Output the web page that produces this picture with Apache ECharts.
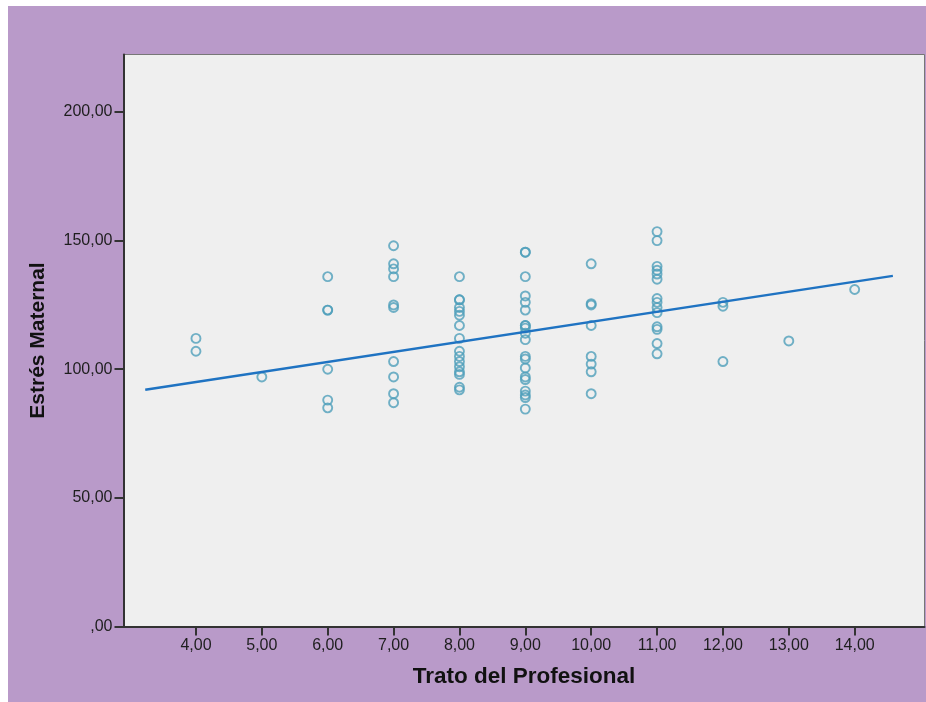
<!DOCTYPE html>
<html>
<head>
<meta charset="utf-8">
<script src="https://cdn.jsdelivr.net/npm/echarts@6/dist/echarts.min.js"></script>
<style>
  html, body { margin: 0; padding: 0; background: #ffffff; }
  #chart {
    position: absolute;
    left: 8px;
    top: 6px;
    width: 918px;
    height: 696px;
    background: #b99ac9;
  }
</style>
</head>
<body>
<div id="chart"></div>
<script>
// Trato del Profesional (x) / Estrés Maternal (y), one entry per point
const trato = [
  4, 4,
  5,
  6, 6, 6, 6, 6, 6,
  7, 7, 7, 7, 7, 7, 7, 7, 7, 7,
  8, 8, 8, 8, 8, 8, 8, 8, 8, 8, 8, 8, 8, 8, 8, 8,
  9, 9, 9, 9, 9, 9, 9, 9, 9, 9, 9, 9, 9, 9, 9, 9, 9, 9, 9, 9,
  10, 10, 10, 10, 10, 10, 10, 10,
  11, 11, 11, 11, 11, 11, 11, 11, 11, 11, 11, 11, 11, 11,
  12, 12, 12,
  13,
  14,
];
const estres = [
  112, 107,
  97,
  136, 123, 123, 100, 88, 85,
  148, 141, 139, 136, 125, 124, 103, 97, 90.5, 87,
  136, 127, 127, 124, 122.5, 121, 117, 112, 107, 105, 103, 101, 99, 98, 93, 92,
  145.5, 145.5, 136, 128.5, 126, 123, 117, 117, 116, 114, 111.5, 105, 104, 100.5, 97, 96, 91.5, 90, 89, 84.5,
  141, 125.5, 125, 117, 105, 102, 99, 90.5,
  153.5, 150, 140, 138.5, 137, 135, 127.5, 126, 124, 122, 116.5, 115.5, 110, 106,
  126, 124.5, 103,
  111,
  131,
];

// recta de ajuste (extremos)
const lineaX = [3.23, 14.58];
const lineaY = [92.0, 136.3];

const xTicks = [4, 5, 6, 7, 8, 9, 10, 11, 12, 13, 14];
const yTicks = [0, 50, 100, 150, 200];

const fmt = (v) => {
  let s = v.toFixed(2).replace(".", ",");
  if (s.startsWith("0,")) s = s.slice(1);
  return s;
};

const myChart = echarts.init(document.getElementById("chart"));

const axisCommon = {
  type: "value",
  axisLine: { show: true, onZero: false, lineStyle: { color: "#333", width: 2 } },
  splitLine: { show: false },
};

const options = {
  animation: false,
  grid: {
    left: 115.5,
    top: 48.5,
    right: 1.5,
    bottom: 75.5,
    show: true,
    backgroundColor: "#efefef",
    borderColor: "#777",
    borderWidth: 1,
  },
  xAxis: {
    ...axisCommon,
    min: 2.9,
    max: 15.06,
    name: "Trato del Profesional",
    nameLocation: "middle",
    nameGap: 39,
    nameTextStyle: {
      color: "#111",
      fontFamily: "Liberation Sans",
      fontWeight: "bold",
      fontSize: 22.5,
    },
    axisTick: {
      show: true,
      length: 9,
      customValues: xTicks,
      lineStyle: { color: "#333", width: 2 },
    },
    axisLabel: {
      customValues: xTicks,
      formatter: fmt,
      margin: 11,
      color: "#1e1e1e",
      fontFamily: "Liberation Sans",
      fontSize: 16,
    },
  },
  yAxis: {
    ...axisCommon,
    min: 0,
    max: 222.35,
    name: "Estrés Maternal",
    nameLocation: "middle",
    nameGap: 75,
    nameTextStyle: {
      color: "#111",
      fontFamily: "Liberation Sans",
      fontWeight: "bold",
      fontSize: 21,
    },
    axisTick: {
      show: true,
      length: 9,
      customValues: yTicks,
      lineStyle: { color: "#333", width: 2 },
    },
    axisLabel: {
      customValues: yTicks,
      formatter: fmt,
      margin: 11,
      color: "#1e1e1e",
      fontFamily: "Liberation Sans",
      fontSize: 16,
    },
  },
  series: [
    {
      type: "scatter",
      data: trato.map((x, i) => [x, estres[i]]),
      symbol: "circle",
      symbolSize: 9,
      itemStyle: {
        color: "rgba(0,0,0,0)",
        borderColor: "#4f9fba",
        borderWidth: 1.9,
      },
      z: 3,
    },
    {
      type: "line",
      data: lineaX.map((x, i) => [x, lineaY[i]]),
      showSymbol: false,
      symbol: "none",
      lineStyle: { color: "#1f73c2", width: 2.5 },
      z: 4,
    },
  ],
};

myChart.setOption(options);
</script>
</body>
</html>
